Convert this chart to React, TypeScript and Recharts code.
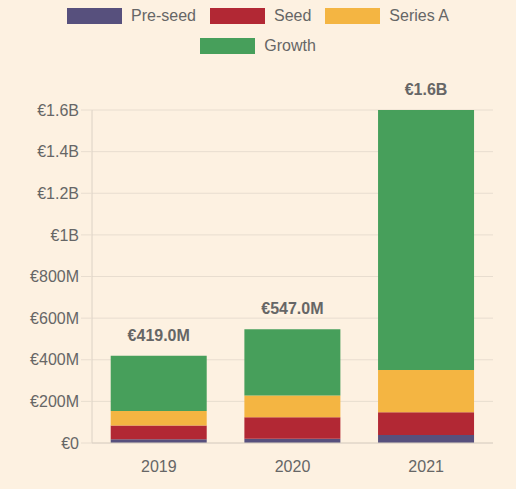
import React from 'react';
import { BarChart, Bar, XAxis, YAxis, CartesianGrid, LabelList } from 'recharts';

// Funding volume per year, in millions of euros, split by stage
const years = ['2019', '2020', '2021'];
const preSeed = [18, 21, 38];
const seed = [66, 103, 110];
const seriesA = [70, 104, 203];
const growth = [265, 319, 1249];

const yTicks = [0, 200, 400, 600, 800, 1000, 1200, 1400, 1600];

const seriesNames = ['Pre-seed', 'Seed', 'Series A', 'Growth'];
const seriesKeys = ['preSeed', 'seed', 'seriesA', 'growth'];
const seriesColors = ['#57507d', '#b22834', '#f4b542', '#479f5b'];

const BG = '#fdf1e1';
const GRID = '#e8ddcf';
const AXIS = '#dcd2c5';
const TEXT = '#666666';
const FONT = '"Liberation Sans", Arial, Helvetica, sans-serif';

const data = years.map((year, i) => ({
  year,
  preSeed: preSeed[i],
  seed: seed[i],
  seriesA: seriesA[i],
  growth: growth[i],
  total: preSeed[i] + seed[i] + seriesA[i] + growth[i],
}));

const formatTick = (v: number) => {
  if (v === 0) return '€0';
  if (v >= 1000) return `€${v / 1000}B`;
  return `€${v}M`;
};

const formatTotal = (v: number) => {
  if (v >= 1000) return `€${(v / 1000).toFixed(1)}B`;
  return `€${v.toFixed(1)}M`;
};

const TotalLabel = (props: any) => {
  const { x, y, width, index } = props;
  const total = data[index].total;
  return (
    <text
      x={Number(x) + Number(width) / 2}
      y={Number(y) - 15}
      textAnchor="middle"
      fill={TEXT}
      fontSize={16}
      fontWeight="bold"
      fontFamily={FONT}
    >
      {formatTotal(total)}
    </text>
  );
};

const LegendItem = ({ name, color }: { name: string; color: string }) => (
  <div style={{ display: 'flex', alignItems: 'center', margin: '0 7px', height: 30 }}>
    <div style={{ width: 55, height: 16, background: color, marginRight: 9 }} />
    <span style={{ fontSize: 16, color: TEXT, fontFamily: FONT, lineHeight: '16px' }}>{name}</span>
  </div>
);

export default function App() {
  return (
    <div style={{ position: 'fixed', inset: 0, background: BG }}>
      <div style={{ position: 'absolute', left: 0, top: 0, width: 516, height: 489 }}>
        <div
          style={{
            position: 'absolute',
            left: 48,
            top: 1,
            width: 420,
            display: 'flex',
            flexWrap: 'wrap',
            justifyContent: 'center',
          }}
        >
          {seriesNames.map((n, i) => (
            <LegendItem key={n} name={n} color={seriesColors[i]} />
          ))}
        </div>
        <div style={{ position: 'absolute', left: 0, top: 0 }}>
          <BarChart
            width={516}
            height={489}
            data={data}
            margin={{ top: 110, right: 23, bottom: 0, left: 0 }}
            barCategoryGap="14%"
          >
            <CartesianGrid vertical={false} stroke={GRID} strokeWidth={1} />
            <XAxis
              dataKey="year"
              height={46}
              tickLine={false}
              tickSize={0}
              tickMargin={18}
              axisLine={{ stroke: AXIS }}
              tick={{ fill: TEXT, fontSize: 16, fontFamily: FONT }}
            />
            <YAxis
              width={92}
              domain={[0, 1600]}
              ticks={yTicks}
              interval={0}
              tickFormatter={formatTick}
              tickSize={11}
              tickMargin={2}
              tickLine={{ stroke: GRID }}
              axisLine={{ stroke: AXIS }}
              tick={{ fill: TEXT, fontSize: 16, fontFamily: FONT }}
            />
            {seriesKeys.map((k, i) => (
              <Bar
                key={k}
                dataKey={k}
                name={seriesNames[i]}
                stackId="funding"
                fill={seriesColors[i]}
                isAnimationActive={false}
              >
                {k === 'growth' ? <LabelList dataKey="total" content={TotalLabel} /> : null}
              </Bar>
            ))}
          </BarChart>
        </div>
      </div>
    </div>
  );
}
